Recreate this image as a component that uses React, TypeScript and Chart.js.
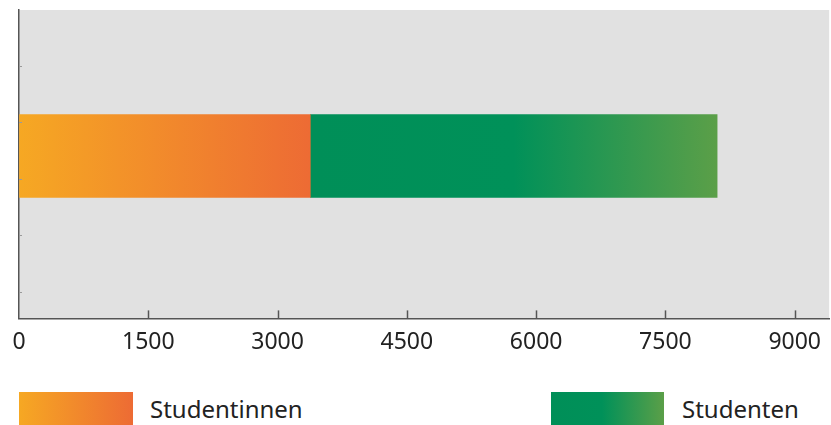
import React, { useEffect, useRef } from "react";
import { Chart, registerables } from "chart.js";

Chart.register(...registerables);

const seriesNames = ["Studentinnen", "Studenten"];
const barPosition = [2.4];
const studentinnen = [3380];
const studenten = [4720];
const xTicks = [0, 1500, 3000, 4500, 6000, 7500, 9000];
const yTicks = [0, 1, 2, 3, 4];

const FONT = "'Noto Sans', 'DejaVu Sans', sans-serif";

function orangeGradient(ctx: CanvasRenderingContext2D, x0: number, x1: number) {
  const g = ctx.createLinearGradient(x0, 0, x1, 0);
  g.addColorStop(0, "#f6a823");
  g.addColorStop(1, "#ed6b34");
  return g;
}
function greenGradient(ctx: CanvasRenderingContext2D, x0: number, x1: number) {
  const g = ctx.createLinearGradient(x0, 0, x1, 0);
  g.addColorStop(0, "#008f58");
  g.addColorStop(0.5, "#009159");
  g.addColorStop(1, "#5b9f48");
  return g;
}

const bgPlugin = {
  id: "bgPlugin",
  beforeDraw(chart: any) {
    const { ctx, chartArea } = chart;
    ctx.save();
    ctx.fillStyle = "#e1e1e1";
    ctx.fillRect(chartArea.left, chartArea.top, chartArea.right - chartArea.left, chartArea.bottom - chartArea.top);
    ctx.restore();
  },
  afterDatasetsDraw(chart: any) {
    const { ctx, chartArea, scales } = chart;
    ctx.save();
    ctx.strokeStyle = "#555";
    ctx.lineWidth = 1.5;
    for (const v of xTicks) {
      if (v === 0) continue;
      const px = Math.round(scales.x.getPixelForValue(v)) + 0.5;
      ctx.beginPath();
      ctx.moveTo(px, chartArea.bottom);
      ctx.lineTo(px, chartArea.bottom - 8);
      ctx.stroke();
    }
    ctx.strokeStyle = "#9a9a9a";
    ctx.lineWidth = 1;
    for (const v of yTicks) {
      const py = Math.round(scales.y.getPixelForValue(v)) + 0.5;
      ctx.beginPath();
      ctx.moveTo(chartArea.left, py);
      ctx.lineTo(chartArea.left + 3, py);
      ctx.stroke();
    }
    ctx.restore();
  },
};

export default function App() {
  const ref = useRef<HTMLCanvasElement | null>(null);

  useEffect(() => {
    document.body.style.margin = "0";
    const canvas = ref.current!;
    const chart = new Chart(canvas, {
      type: "bar",
      data: {
        datasets: [
          {
            label: seriesNames[0],
            data: studentinnen.map((v, i) => ({ x: v, y: barPosition[i] })),
            backgroundColor: (c: any) => {
              const ch = c.chart;
              if (!ch.chartArea) return "#f29030";
              const xs = ch.scales.x;
              return orangeGradient(ch.ctx, xs.getPixelForValue(0), xs.getPixelForValue(studentinnen[0]));
            },
            barThickness: 83,
            borderWidth: 0,
          },
          {
            label: seriesNames[1],
            data: studenten.map((v, i) => ({ x: v, y: barPosition[i] })),
            backgroundColor: (c: any) => {
              const ch = c.chart;
              if (!ch.chartArea) return "#00915a";
              const xs = ch.scales.x;
              return greenGradient(
                ch.ctx,
                xs.getPixelForValue(studentinnen[0]),
                xs.getPixelForValue(studentinnen[0] + studenten[0])
              );
            },
            barThickness: 83,
            borderWidth: 0,
          },
        ],
      },
      options: {
        indexAxis: "y",
        animation: false,
        responsive: false,
        maintainAspectRatio: false,
        layout: { padding: { top: 10, right: 0, left: 0, bottom: 0 } },
        plugins: {
          legend: { display: false },
          tooltip: { enabled: false },
        },
        scales: {
          x: {
            type: "linear",
            stacked: true,
            min: 0,
            max: 9400,
            offset: false,
            afterBuildTicks: (s: any) => {
              s.ticks = xTicks.map((v) => ({ value: v }));
            },
            grid: { drawOnChartArea: false, drawTicks: false },
            border: { display: true, color: "#555", width: 1.5 },
            ticks: {
              padding: 10,
              color: "#222",
              font: { family: FONT, size: 23 },
              maxRotation: 0,
              autoSkip: false,
              callback: (v: any) => String(v),
            },
          },
          y: {
            type: "linear",
            stacked: true,
            offset: false,
            min: -0.476,
            max: 4.986,
            afterBuildTicks: (s: any) => {
              s.ticks = yTicks.map((v) => ({ value: v }));
            },
            grid: { display: false, offset: false },
            border: { display: true, color: "#555", width: 1.5 },
            ticks: { display: false },
            afterFit: (s: any) => {
              s.width = 19;
            },
          },
        },
      },
      plugins: [bgPlugin],
    });
    return () => chart.destroy();
  }, []);

  const legendText: React.CSSProperties = {
    position: "absolute",
    top: 395,
    fontFamily: FONT,
    fontSize: 24,
    color: "#222",
    lineHeight: "28px",
    whiteSpace: "nowrap",
  };

  return (
    <div style={{ position: "relative", width: 831, height: 425, overflow: "hidden" }}>
      <canvas ref={ref} width={831} height={366} style={{ display: "block" }} />
      <div
        style={{
          position: "absolute",
          left: 19,
          top: 392,
          width: 114,
          height: 33,
          background: "linear-gradient(to right, #f6a823, #ed6b34)",
        }}
      />
      <div style={{ ...legendText, left: 150 }}>{seriesNames[0]}</div>
      <div
        style={{
          position: "absolute",
          left: 551,
          top: 392,
          width: 113,
          height: 33,
          background: "linear-gradient(to right, #008f58 0%, #009159 45%, #5b9f48 100%)",
        }}
      />
      <div style={{ ...legendText, left: 682 }}>{seriesNames[1]}</div>
    </div>
  );
}
